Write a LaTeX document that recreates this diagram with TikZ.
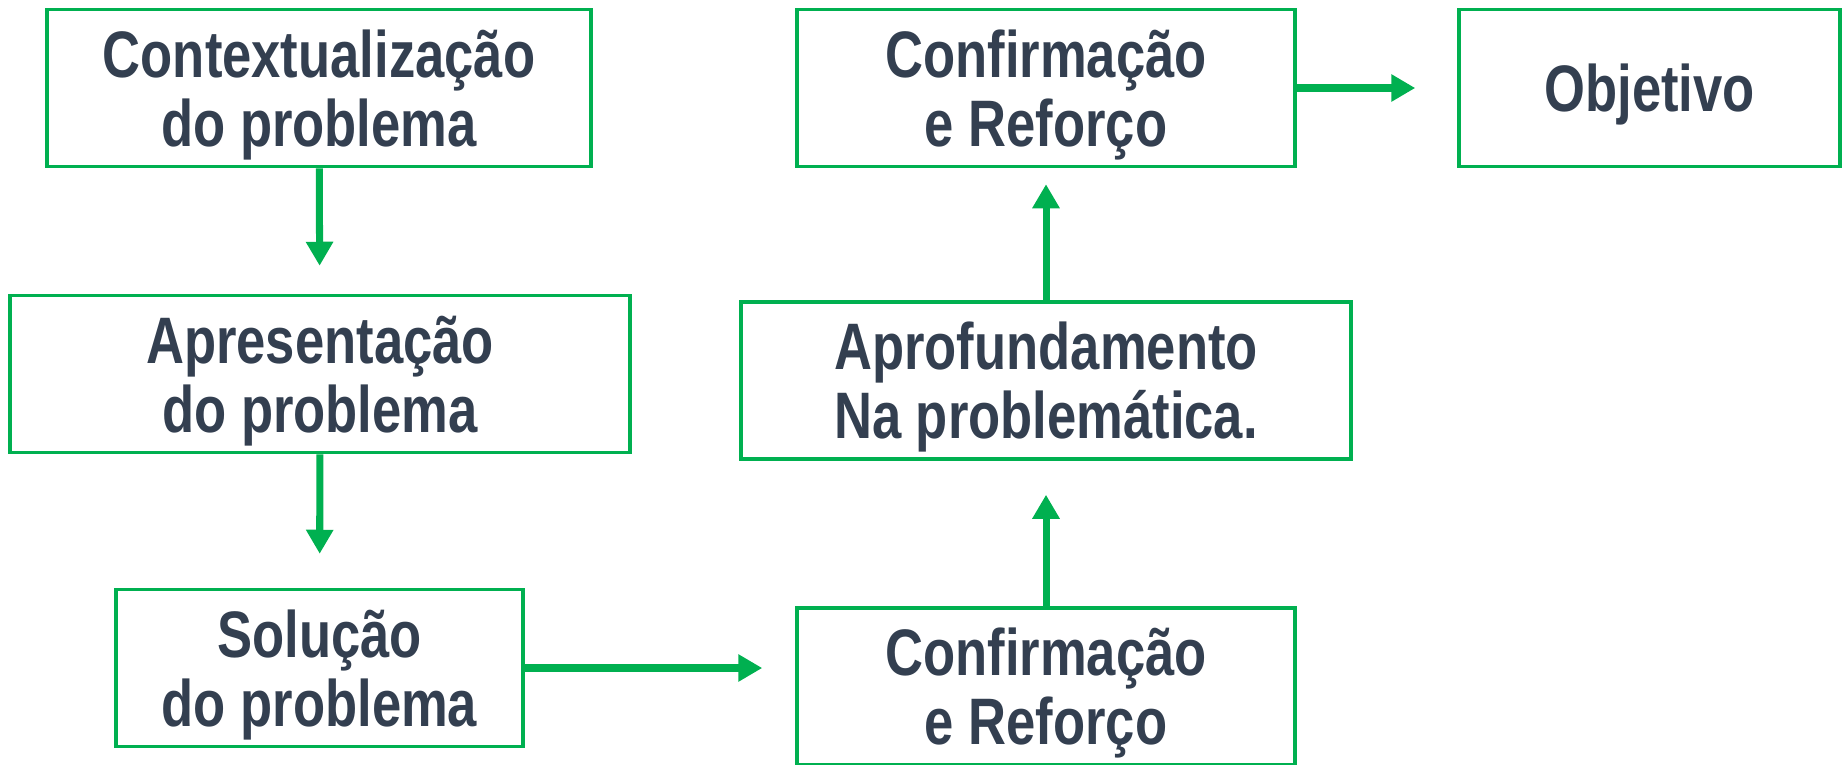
\documentclass[tikz,border=0pt]{standalone}
\usepackage{fontspec}
\setmainfont{Liberation Sans}[FakeStretch=0.8]
\usetikzlibrary{arrows.meta}
\definecolor{verde}{HTML}{00B050}
\definecolor{texto}{HTML}{333F50}

\begin{document}
\begin{tikzpicture}[
 caixa/.style={draw=verde,line width=1pt,minimum height=1.57cm,inner sep=0pt,text depth=0pt,align=center,text=texto,font=\fontsize{18.7}{19.6}\selectfont\bfseries},
 seta/.style={draw=verde,line width=2pt,-{Triangle[length=0.24cm,width=0.26cm]}}
]
 \useasboundingbox (0,0) rectangle (18.45,7.64); %全体の大きさ
 \node[caixa,minimum width=5.44cm] (ctx) at (3.19,6.76) {Contextualização\\do problema}; %左上
 \node[caixa,minimum width=6.20cm] (apr) at (3.20,3.90) {Apresentação\\do problema}; %左中
 \node[caixa,minimum width=4.07cm] (sol) at (3.195,0.96) {Solução\\do problema}; %左下
 \node[caixa,minimum width=4.98cm] (conf) at (10.46,0.775) {Confirmação\\e Reforço}; %中下
 \node[caixa,minimum width=6.10cm] (apf) at (10.46,3.835) {Aprofundamento\\Na problemática.}; %中央
 \node[caixa,minimum width=4.98cm] (confb) at (10.46,6.76) {Confirmação\\e Reforço}; %中上
 \node[caixa,minimum width=3.81cm] (obj) at (16.495,6.76) {Objetivo}; %右上
 \draw[seta,shorten >=0.28cm] (ctx)--(apr); %下向き
 \draw[seta,shorten >=0.34cm] (apr)--(sol); %下向き
 \draw[seta,shorten >=0.33cm] (sol)--(sol-|conf.west); %右向き
 \draw[seta,shorten >=0.34cm] (conf)--(apf); %上向き
 \draw[seta,shorten >=0.16cm] (apf)--(confb); %上向き
 \draw[seta,shorten >=0.42cm] (confb)--(obj); %右向き
\end{tikzpicture}
\end{document}
